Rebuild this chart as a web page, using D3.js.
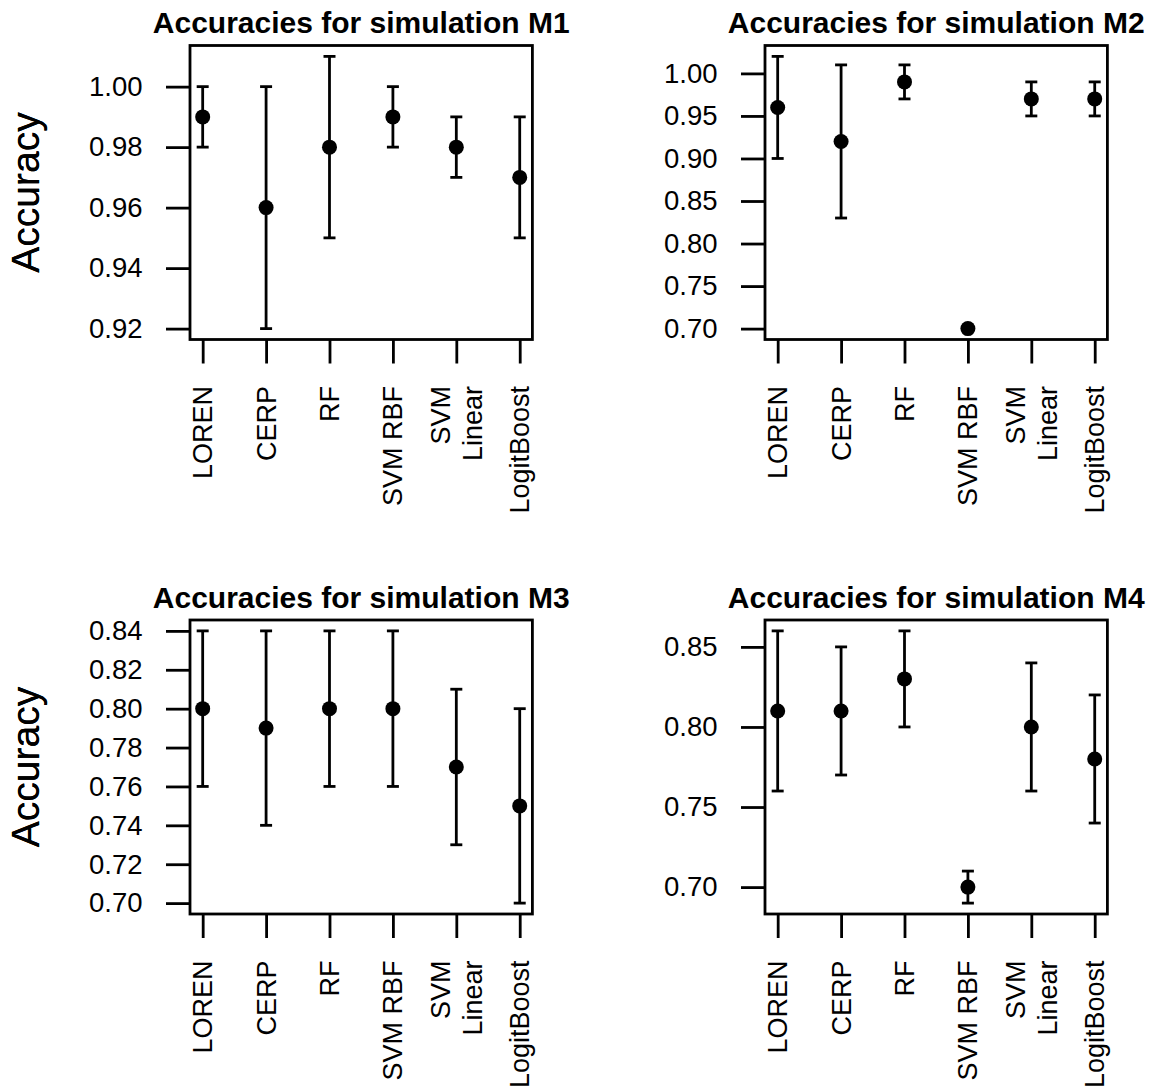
<!DOCTYPE html>
<html>
<head>
<meta charset="utf-8">
<script src="https://cdn.jsdelivr.net/npm/d3@7"></script>
<style>
  body { margin: 0; background: #fff; }
  svg { display: block; font-family: "Liberation Sans", Arial, Helvetica, sans-serif; }
</style>
</head>
<body>
<svg id="chart" width="1163" height="1091"></svg>
<script>
// method names, one entry per line of the label
var methods = [["LOREN"], ["CERP"], ["RF"], ["SVM RBF"], ["SVM", "Linear"], ["LogitBoost"]];

var titles = ["Accuracies for simulation M1", "Accuracies for simulation M2",
              "Accuracies for simulation M3", "Accuracies for simulation M4"];

var m1Acc   = [0.99, 0.96, 0.98, 0.99, 0.98, 0.97];
var m1Lower = [0.98, 0.92, 0.95, 0.98, 0.97, 0.95];
var m1Upper = [1.00, 1.00, 1.01, 1.00, 0.99, 0.99];
var m1Ticks = [0.92, 0.94, 0.96, 0.98, 1.00];

var m2Acc   = [0.96, 0.92, 0.99, 0.70, 0.97, 0.97];
var m2Lower = [0.90, 0.83, 0.97, 0.70, 0.95, 0.95];
var m2Upper = [1.02, 1.01, 1.01, 0.70, 0.99, 0.99];
var m2Ticks = [0.70, 0.75, 0.80, 0.85, 0.90, 0.95, 1.00];

var m3Acc   = [0.80, 0.79, 0.80, 0.80, 0.77, 0.75];
var m3Lower = [0.76, 0.74, 0.76, 0.76, 0.73, 0.70];
var m3Upper = [0.84, 0.84, 0.84, 0.84, 0.81, 0.80];
var m3Ticks = [0.70, 0.72, 0.74, 0.76, 0.78, 0.80, 0.82, 0.84];

var m4Acc   = [0.81, 0.81, 0.83, 0.70, 0.80, 0.78];
var m4Lower = [0.76, 0.77, 0.80, 0.69, 0.76, 0.74];
var m4Upper = [0.86, 0.85, 0.86, 0.71, 0.84, 0.82];
var m4Ticks = [0.70, 0.75, 0.80, 0.85];

var panels = [
  { title: titles[0], acc: m1Acc, lo: m1Lower, hi: m1Upper, ticks: m1Ticks, col: 0, row: 0 },
  { title: titles[1], acc: m2Acc, lo: m2Lower, hi: m2Upper, ticks: m2Ticks, col: 1, row: 0 },
  { title: titles[2], acc: m3Acc, lo: m3Lower, hi: m3Upper, ticks: m3Ticks, col: 0, row: 1 },
  { title: titles[3], acc: m4Acc, lo: m4Lower, hi: m4Upper, ticks: m4Ticks, col: 1, row: 1 }
];

var colX = [190, 765],
    rowY = [45.5, 620],
    plotW = 342.4,
    plotH = 294,
    lw = 2.8;

var svg = d3.select("#chart");

panels.forEach(function(p) {
  var left = colX[p.col], top = rowY[p.row];

  // R style limits: data range padded by 4%
  var n = methods.length;
  var x = d3.scaleLinear()
      .domain([1 - 0.04 * (n - 1), n + 0.04 * (n - 1)])
      .range([0, plotW]);

  var ymin = d3.min(p.lo), ymax = d3.max(p.hi), pad = (ymax - ymin) * 0.04;
  var y = d3.scaleLinear()
      .domain([ymin - pad, ymax + pad])
      .range([plotH, 0]);

  var g = svg.append("g")
      .attr("transform", "translate(" + left + "," + top + ")");

  // y axis
  var yAxis = g.append("g")
      .call(d3.axisLeft(y).tickValues(p.ticks).tickSize(24).tickPadding(23.5)
        .tickFormat(d3.format(".2f")));
  yAxis.select(".domain").remove();
  yAxis.selectAll("line").attr("stroke", "#000").attr("stroke-width", lw);
  yAxis.selectAll("text").attr("font-size", 27.5).attr("font-family", null).attr("fill", "#000");

  // x axis, labels drawn rotated below
  var xAxis = g.append("g")
      .attr("transform", "translate(0," + plotH + ")")
      .call(d3.axisBottom(x).tickValues(d3.range(1, n + 1)).tickSize(24).tickFormat(""));
  xAxis.select(".domain").remove();
  xAxis.selectAll("line").attr("stroke", "#000").attr("stroke-width", lw);

  methods.forEach(function(lines, i) {
    var t = g.append("text")
        .attr("transform", "translate(" + x(i + 1) + "," + (plotH + 46.5) + ") rotate(-90)")
        .attr("text-anchor", "end")
        .attr("font-size", 27);
    var gap = 32, first = -(lines.length - 1) * gap / 2 + 9.5;
    lines.forEach(function(s, k) {
      t.append("tspan")
        .attr("x", 0)
        .attr("dy", k === 0 ? first : gap)
        .text(s);
    });
  });

  // box
  g.append("rect")
      .attr("width", plotW)
      .attr("height", plotH)
      .attr("fill", "none")
      .attr("stroke", "#000")
      .attr("stroke-width", lw);

  // error bars
  var bars = g.selectAll(".bar")
      .data(p.acc.map(function(d, i) { return { i: i + 1, v: d, lo: p.lo[i], hi: p.hi[i] }; }))
      .enter()
      .append("g")
        .attr("class", "bar");

  bars.filter(function(d) { return d.hi > d.lo; })
    .each(function(d) {
      var b = d3.select(this), cx = x(d.i);
      b.append("line")
        .attr("x1", cx).attr("x2", cx)
        .attr("y1", y(d.lo)).attr("y2", y(d.hi));
      b.append("line")
        .attr("x1", cx - 6).attr("x2", cx + 6)
        .attr("y1", y(d.lo)).attr("y2", y(d.lo));
      b.append("line")
        .attr("x1", cx - 6).attr("x2", cx + 6)
        .attr("y1", y(d.hi)).attr("y2", y(d.hi));
    })
    .selectAll("line")
      .attr("stroke", "#000")
      .attr("stroke-width", lw);

  bars.append("circle")
      .attr("cx", function(d) { return x(d.i); })
      .attr("cy", function(d) { return y(d.v); })
      .attr("r", 7.5)
      .attr("fill", "#000");

  // titles
  g.append("text")
      .attr("x", plotW / 2)
      .attr("y", -12.5)
      .attr("text-anchor", "middle")
      .attr("font-size", 30)
      .attr("font-weight", "bold")
      .text(p.title);

  g.append("text")
      .attr("transform", "translate(" + (39 - left) + "," + (plotH / 2) + ") rotate(-90)")
      .attr("text-anchor", "middle")
      .attr("font-size", 39)
      .text("Accuracy");
});
</script>
</body>
</html>
